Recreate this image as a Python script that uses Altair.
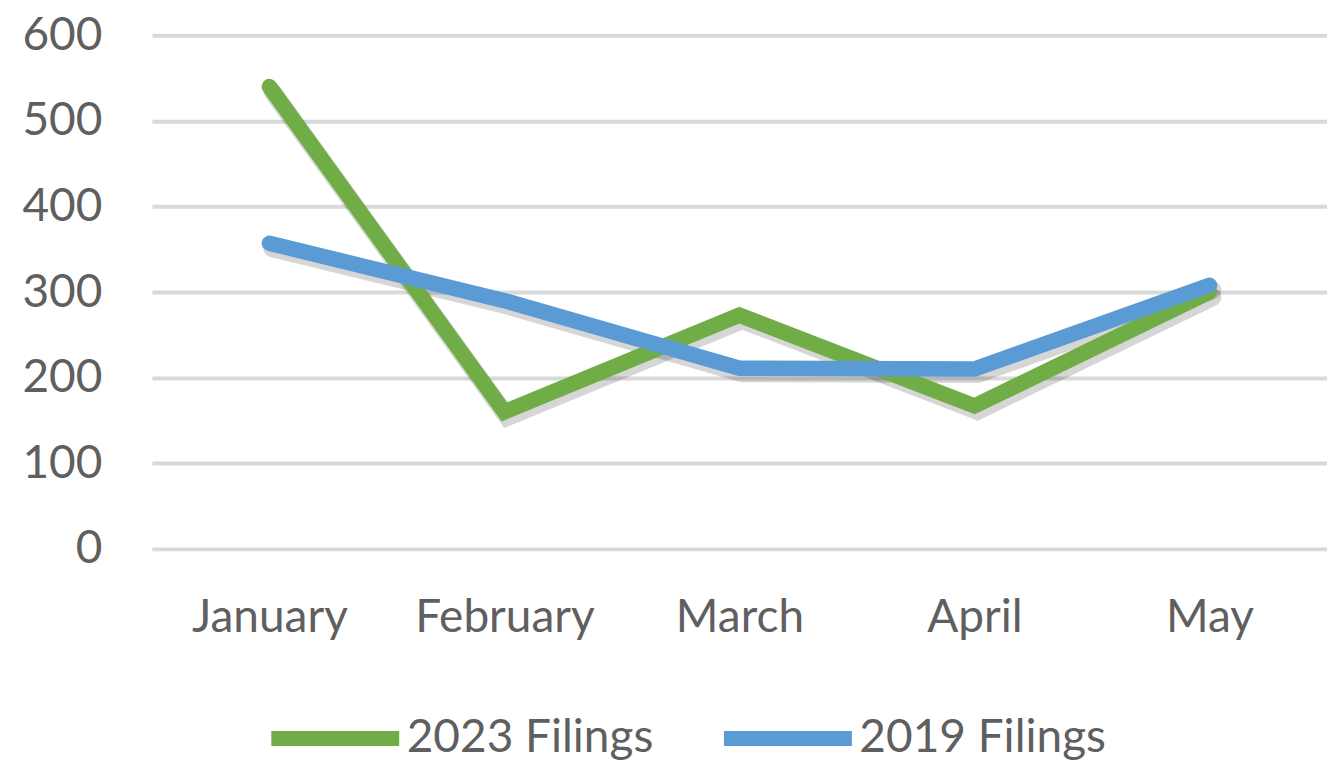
import altair as alt
import pandas as pd

months = ["January", "February", "March", "April", "May"]
series_names = ["2023 Filings", "2019 Filings"]
filings_2023 = [540, 160, 273, 167, 300]
filings_2019 = [357, 290, 211, 210, 308]
y_ticks = [0, 100, 200, 300, 400, 500, 600]
colors = ["#70AD47", "#5B9BD5"]

rows = []
for m, v in zip(months, filings_2023):
    rows.append({"Month": m, "Series": series_names[0], "Value": v, "order": 0})
for m, v in zip(months, filings_2019):
    rows.append({"Month": m, "Series": series_names[1], "Value": v, "order": 1})
df = pd.DataFrame(rows)

FONT = "Lato"
TXT = "#5F5F5F"

x_enc = alt.X("Month:N", sort=months, title=None,
              scale=alt.Scale(type="point", padding=0.5),
              axis=alt.Axis(domain=False, ticks=False, grid=False, labelAngle=0,
                            labelFontSize=46, labelFont=FONT, labelColor=TXT,
                            labelPadding=47))
y_enc = alt.Y("Value:Q", title=None,
              scale=alt.Scale(domain=[0, 600], nice=False),
              axis=alt.Axis(values=y_ticks, domain=False, ticks=False, grid=True,
                            gridColor="#D9D9D9", gridWidth=4,
                            labelFontSize=46, labelFont=FONT, labelColor=TXT,
                            labelPadding=50))

base = alt.Chart(df)

shadow = base.mark_line(strokeWidth=18, color="black", opacity=0.16,
                        xOffset=3, yOffset=5, strokeCap="round").encode(
    x=x_enc, y=y_enc, detail="Series:N")

lines = base.mark_line(strokeWidth=15.5, strokeCap="round").encode(
    x=x_enc, y=y_enc,
    color=alt.Color("Series:N", sort=series_names,
                    scale=alt.Scale(domain=series_names, range=colors),
                    legend=alt.Legend(title=None, orient="none", direction="horizontal",
                                      legendX=112, legendY=632,
                                      symbolType="stroke", symbolSize=16384,
                                      symbolStrokeWidth=15,
                                      labelFontSize=46, labelFont=FONT, labelColor=TXT,
                                      labelOffset=0, columnPadding=40,
                                      labelLimit=400)),
    order=alt.Order("order:Q"))

chart = alt.layer(shadow, lines).properties(
    width=1176, height=514,
    autosize=alt.AutoSizeParams(type="none"),
    padding={"left": 144, "top": 27, "right": 0, "bottom": 211},
).configure_view(stroke=None)

chart.save("out.html", embed_options={"renderer": "svg", "actions": False})
